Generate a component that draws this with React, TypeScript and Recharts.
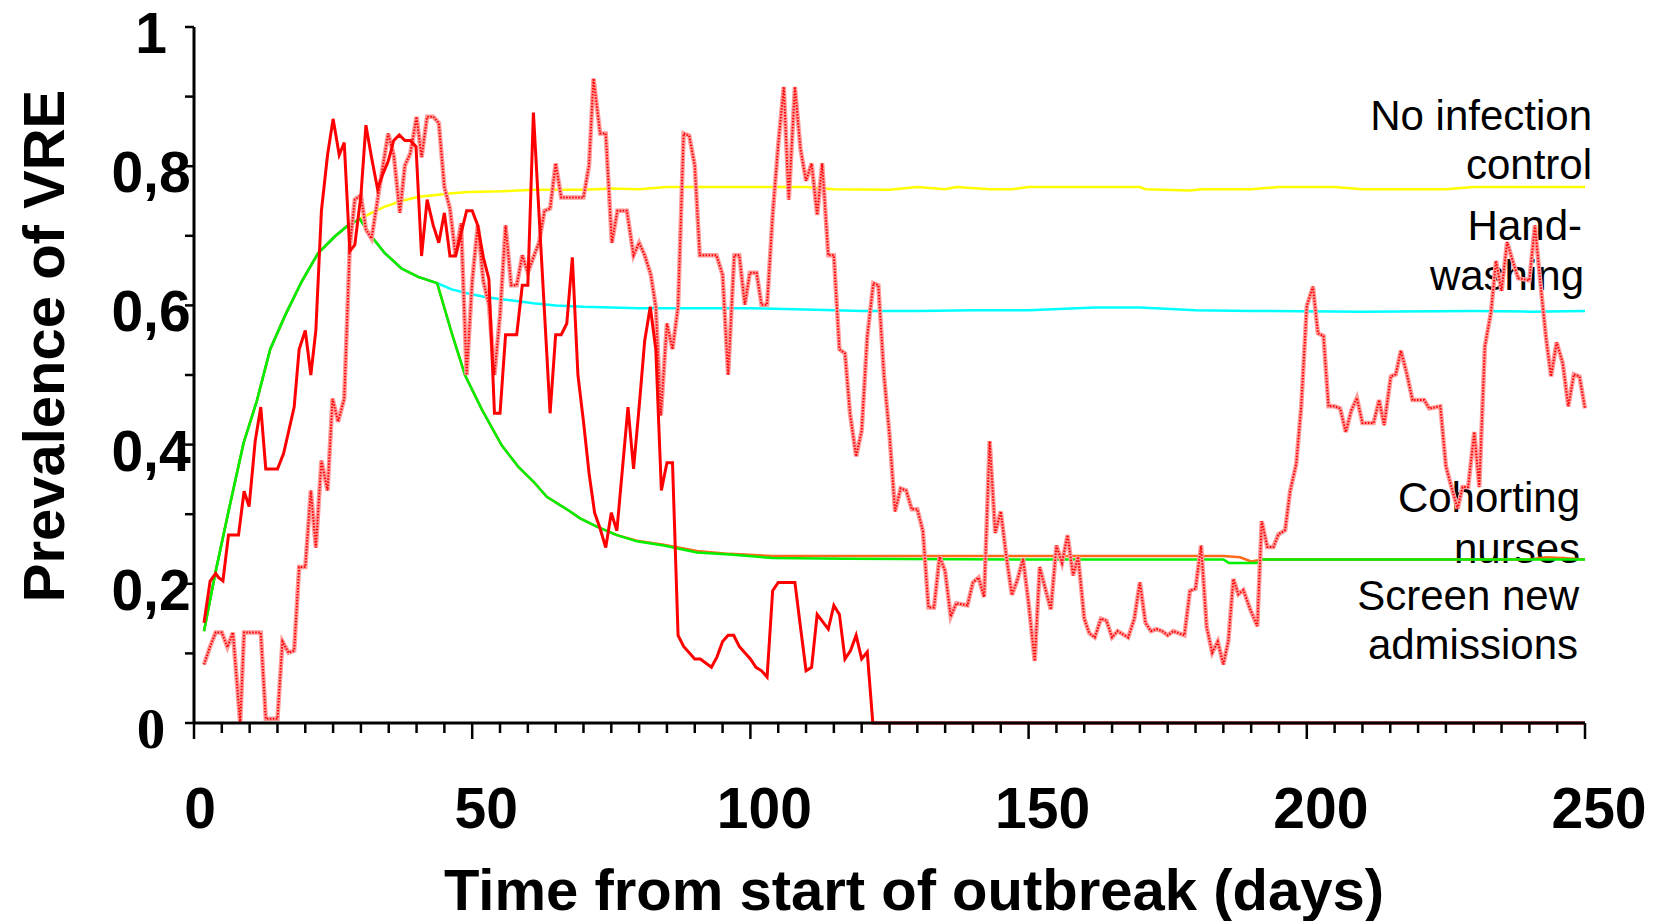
import React from 'react';
import { Line, LineChart, XAxis, YAxis } from 'recharts';

type Pt = [number, number];

// axis ticks and labels
const xTicks = Array.from({ length: 51 }, (_, i) => i * 5);
const yTicks = [0, 0.1, 0.2, 0.3, 0.4, 0.5, 0.6, 0.7, 0.8, 0.9, 1];
const yTickLabels = ['0', '', '0,2', '', '0,4', '', '0,6', '', '0,8', '', '1'];

const xTitle = 'Time from start of outbreak (days)';
const yTitle = 'Prevalence of VRE';
const seriesLabels = [
  ['No infection', 'control'],
  ['Hand-', 'washing'],
  ['Cohorting', 'nurses'],
  ['Screen new', 'admissions'],
];

// deterministic model runs: [day, prevalence]
const rise: Pt[] = [
  [1.8, 0.132], [3.9, 0.218], [6.2, 0.304], [8.9, 0.402], [11.3, 0.463], [13.7, 0.537],
  [16.4, 0.586], [19.4, 0.635], [22.3, 0.675], [25.3, 0.699], [27.7, 0.715], [29.8, 0.724],
];
const earlyDecline: Pt[] = [
  [31.9, 0.699], [34.3, 0.675], [37.3, 0.653], [40.3, 0.641], [43.7, 0.632],
];

const noControl: Pt[] = [
  ...rise,
  [31.9, 0.733], [34.3, 0.742], [37.3, 0.75], [40.3, 0.756], [43.9, 0.759], [46.3, 0.761],
  [49.3, 0.763], [55.3, 0.764], [61, 0.766], [70, 0.766], [75, 0.768], [80, 0.767], [85, 0.77],
  [110, 0.77], [115, 0.767], [125, 0.766], [130, 0.77], [135, 0.767], [137, 0.77], [143, 0.767],
  [147, 0.767], [150, 0.77], [170, 0.77], [171, 0.767], [179, 0.765], [181, 0.767], [190, 0.767],
  [195, 0.77], [205, 0.77], [210, 0.767], [225, 0.767], [230, 0.77], [250, 0.77],
];

const handwashing: Pt[] = [
  ...rise, ...earlyDecline,
  [46.3, 0.623], [49.3, 0.617], [52.3, 0.612], [55.3, 0.609], [58.3, 0.606], [61, 0.603],
  [65, 0.6], [70, 0.598], [80, 0.596], [100, 0.596], [110, 0.594], [120, 0.592], [130, 0.592],
  [140, 0.593], [150, 0.593], [162, 0.597], [170, 0.597], [180, 0.593], [190, 0.592],
  [210, 0.591], [230, 0.592], [240, 0.591], [250, 0.592],
];

const cohorting: Pt[] = [
  ...rise, ...earlyDecline,
  [44.5, 0.61], [46.3, 0.561], [48.7, 0.5], [51.7, 0.451], [55.3, 0.399], [58.3, 0.368],
  [61, 0.347], [63.4, 0.325], [67, 0.307], [69.4, 0.294], [72.4, 0.282], [76, 0.27],
  [79.6, 0.262], [84.4, 0.256], [90.4, 0.247], [96.3, 0.243], [104, 0.24], [150, 0.24],
  [185, 0.24], [188, 0.238], [190, 0.232], [192, 0.235], [240, 0.235], [243, 0.238],
  [246, 0.237], [250, 0.235],
];

const screening: Pt[] = [
  ...rise, ...earlyDecline,
  [44.5, 0.61], [46.3, 0.561], [48.7, 0.5], [51.7, 0.451], [55.3, 0.399], [58.3, 0.368],
  [61, 0.347], [63.4, 0.325], [67, 0.307], [69.4, 0.294], [72.4, 0.282], [76, 0.27],
  [79.6, 0.261], [84.4, 0.255], [90.4, 0.245], [96.3, 0.242], [104, 0.237], [117, 0.236],
  [150, 0.235], [185, 0.235], [186, 0.23], [191, 0.23], [192, 0.235], [250, 0.235],
];

// stochastic run that dies out
const stochasticA: Pt[] = [
  [1.8, 0.144], [2.9, 0.204], [3.9, 0.215], [4.4, 0.209], [5.2, 0.204], [6.2, 0.27], [8, 0.27],
  [9, 0.333], [9.9, 0.311], [11, 0.405], [12, 0.454], [12.9, 0.365], [15, 0.365], [16.1, 0.387],
  [18, 0.454], [18.9, 0.537], [20, 0.564], [21, 0.5], [21.9, 0.564], [22.9, 0.736], [24, 0.816],
  [25, 0.868], [26.1, 0.816], [27, 0.834], [28, 0.678], [28.9, 0.687], [30, 0.758], [30.9, 0.859],
  [31.9, 0.813], [33, 0.767], [33.9, 0.788], [34.9, 0.807], [35.9, 0.837], [36.9, 0.845],
  [37.9, 0.837], [38.9, 0.837], [39.9, 0.828], [40.9, 0.671], [41.9, 0.752], [43, 0.715],
  [44, 0.69], [45, 0.733], [46, 0.671], [47, 0.671], [49, 0.736], [50, 0.736], [51, 0.715],
  [52, 0.669], [53, 0.638], [54, 0.445], [55, 0.445], [56, 0.558], [58, 0.558], [59, 0.629],
  [60, 0.629], [61, 0.877], [64, 0.445], [65, 0.558], [66, 0.558], [67, 0.574], [68, 0.669],
  [69, 0.5], [70, 0.433], [71, 0.359], [72, 0.302], [73, 0.279], [74, 0.252], [75, 0.302],
  [76, 0.276], [77, 0.365], [78, 0.454], [79, 0.365], [80, 0.454], [81, 0.549], [82, 0.598],
  [83, 0.537], [84, 0.334], [85, 0.374], [86, 0.374], [87, 0.126], [88, 0.11], [90, 0.092],
  [91, 0.092], [93, 0.08], [94, 0.095], [95, 0.117], [96, 0.126], [97, 0.126], [98, 0.11],
  [100, 0.092], [101, 0.08], [102, 0.075], [103, 0.066], [104, 0.19], [105, 0.202], [108, 0.202],
  [109, 0.138], [110, 0.075], [111, 0.08], [112, 0.156], [114, 0.135], [115, 0.169], [116, 0.156],
  [117, 0.092], [118, 0.104], [119, 0.126], [120, 0.092], [121, 0.102], [122, 0], [250, 0],
];

// stochastic run that persists
const stochasticB: Pt[] = [
  [1.8, 0.084], [2.9, 0.11], [3.9, 0.13], [5, 0.13], [6, 0.109], [7, 0.13], [8.3, 0], [9, 0.13],
  [12, 0.13], [12.9, 0.006], [15, 0.006], [15.9, 0.117], [17, 0.101], [18, 0.104], [18.9, 0.224],
  [20, 0.224], [21, 0.334], [21.9, 0.252], [22.9, 0.377], [24, 0.334], [24.9, 0.466], [25.9, 0.433],
  [27, 0.466], [28, 0.684], [28.9, 0.752], [30, 0.758], [30.9, 0.709], [31.9, 0.696], [33, 0.752],
  [33.9, 0.798], [34.9, 0.847], [35.9, 0.816], [37, 0.733], [37.9, 0.801], [38.9, 0.819], [40, 0.871],
  [40.9, 0.813], [41.9, 0.871], [43, 0.871], [44, 0.862], [45, 0.77], [46, 0.739], [47, 0.672],
  [48, 0.718], [49, 0.5], [50, 0.635], [51, 0.715], [52, 0.635], [53, 0.601], [54, 0.5], [55, 0.586],
  [56, 0.715], [57, 0.629], [58, 0.629], [59, 0.672], [60, 0.647], [61, 0.669], [62, 0.69],
  [63, 0.736], [64, 0.739], [65, 0.804], [66, 0.755], [70, 0.755], [71, 0.801], [71.8, 0.926],
  [73, 0.847], [74, 0.847], [75.1, 0.69], [76.1, 0.736], [77.8, 0.736], [79, 0.672], [80, 0.69],
  [81, 0.672], [82.1, 0.644], [83, 0.598], [83.9, 0.442], [85, 0.574], [86, 0.537], [87, 0.598],
  [88, 0.847], [89, 0.844], [90, 0.801], [90.9, 0.672], [93.9, 0.672], [95, 0.644], [96, 0.5],
  [97.1, 0.672], [98, 0.672], [99, 0.601], [99.9, 0.647], [101.1, 0.647], [102, 0.601], [103, 0.601],
  [104, 0.73], [105, 0.831], [106, 0.914], [106.9, 0.752], [108, 0.914], [109, 0.825], [110, 0.779],
  [111, 0.804], [112, 0.73], [112.9, 0.804], [114, 0.672], [115, 0.672], [116, 0.537], [117, 0.531],
  [117.9, 0.445], [119, 0.383], [120, 0.42], [121, 0.555], [122.1, 0.632], [123, 0.629], [124, 0.5],
  [125, 0.414], [126, 0.304], [127, 0.337], [128, 0.334], [129, 0.307], [130, 0.307], [131, 0.276],
  [132, 0.166], [133, 0.166], [134, 0.239], [135, 0.218], [136, 0.153], [137, 0.172], [139, 0.169],
  [140, 0.202], [141, 0.209], [142, 0.181], [143, 0.405], [144, 0.273], [145, 0.304], [146, 0.239],
  [147, 0.184], [148, 0.206], [149, 0.236], [150, 0.172], [151.1, 0.089], [152, 0.224],
  [153.1, 0.19], [154, 0.163], [155, 0.255], [156, 0.23], [157, 0.27], [158, 0.212], [158.9, 0.239],
  [160, 0.15], [160.9, 0.129], [161.9, 0.123], [163, 0.15], [164, 0.147], [165, 0.123], [166, 0.132],
  [167.9, 0.123], [169, 0.15], [170, 0.202], [171, 0.144], [172, 0.132], [173, 0.135], [174, 0.132],
  [175, 0.126], [176, 0.132], [178, 0.126], [179, 0.19], [180, 0.193], [181, 0.255], [182, 0.138],
  [183, 0.101], [184, 0.117], [185, 0.084], [185.9, 0.118], [186.8, 0.207], [187.7, 0.185],
  [188.6, 0.191], [189.8, 0.164], [191.1, 0.139], [191.9, 0.29], [192.9, 0.253], [194, 0.253],
  [194.9, 0.271], [196.1, 0.277], [197, 0.333], [198.1, 0.372], [199, 0.455], [200, 0.599],
  [201.1, 0.627], [202, 0.56], [203, 0.556], [203.9, 0.455], [205, 0.455], [206, 0.452], [207, 0.418],
  [208, 0.449], [209, 0.467], [210, 0.431], [212, 0.431], [213, 0.464], [213.9, 0.428], [215.1, 0.498],
  [216, 0.501], [216.9, 0.535], [218, 0.501], [219, 0.464], [221.1, 0.464], [222, 0.452], [224, 0.455],
  [225, 0.369], [226, 0.339], [227.1, 0.308], [228, 0.339], [229, 0.339], [230.1, 0.418], [231, 0.339],
  [232, 0.541], [233.1, 0.59], [234, 0.664], [235, 0.621], [236, 0.691], [237, 0.664], [238, 0.639],
  [240, 0.636], [241, 0.715], [241.9, 0.639], [243, 0.553], [243.9, 0.498], [244.9, 0.547],
  [246, 0.517], [247, 0.455], [248, 0.501], [249, 0.498], [250, 0.452],
];

const rows = (pts: Pt[]) => pts.map(([day, v]) => ({ day, v }));

const SANS = '"Liberation Sans", Arial, Helvetica, sans-serif';
const SERIF = '"Liberation Serif", "Times New Roman", serif';

function XTick(props: any) {
  const { x, y, payload } = props;
  const v = payload.value;
  const major = v % 50 === 0;
  return (
    <g>
      <line x1={x} x2={x} y1={y} y2={y + (major ? 16 : 10)} stroke="#000" strokeWidth={2.5} />
      {major && (
        <text x={x + (v === 0 ? 6 : 14)} y={828} textAnchor="middle" fontFamily={SANS}
          fontWeight="bold" fontSize={57} fill="#000">
          {v}
        </text>
      )}
    </g>
  );
}

function YTick(props: any) {
  const { x, y, index } = props;
  const label = yTickLabels[index];
  return (
    <g>
      <line x1={x - 9} x2={x} y1={y} y2={y} stroke="#000" strokeWidth={2.5} />
      {label && (
        <text x={x - 43} y={y + (label === '0' ? 25 : 26)} textAnchor="middle"
          fontFamily={label === '0' ? SERIF : SANS} fontWeight="bold" fontSize={57} fill="#000">
          {label}
        </text>
      )}
    </g>
  );
}

export default function App() {
  const labelPos = [
    [[1592, 130], [1592, 179]],
    [[1582, 240], [1584, 290]],
    [[1580, 512], [1580, 563]],
    [[1579, 610], [1578, 659]],
  ];
  return (
    <div style={{ position: 'absolute', left: 0, top: 0, background: '#fff' }}>
      <LineChart width={1660} height={921} margin={{ top: 27, right: 75, bottom: 168, left: 164 }}>
        <XAxis type="number" dataKey="day" domain={[0, 250]} ticks={xTicks} interval={0}
          height={30} tickSize={0} tickMargin={0} tickLine={false}
          axisLine={{ stroke: '#000', strokeWidth: 3 }} tick={<XTick />} />
        <YAxis type="number" domain={[0, 1]} ticks={yTicks} interval={0} width={30}
          tickSize={0} tickMargin={0} tickLine={false}
          axisLine={{ stroke: '#000', strokeWidth: 3 }} tick={<YTick />} />
        <Line data={rows(noControl)} dataKey="v" name="noControl" stroke="#ffff00" strokeWidth={2.5}
          dot={false} isAnimationActive={false} />
        <Line data={rows(handwashing)} dataKey="v" name="handwashing" stroke="#00ffff" strokeWidth={2.5}
          dot={false} isAnimationActive={false} />
        <Line data={rows(cohorting)} dataKey="v" name="cohorting" stroke="#ff6a1a" strokeWidth={2.5}
          dot={false} isAnimationActive={false} />
        <Line data={rows(screening)} dataKey="v" name="screening" stroke="#00f000" strokeWidth={2.5}
          dot={false} isAnimationActive={false} />
        <Line data={rows(stochasticB)} dataKey="v" name="stochasticBbase" stroke="#ff9c9c" strokeWidth={4.5}
          dot={false} isAnimationActive={false} />
        <Line data={rows(stochasticB)} dataKey="v" name="stochasticB" stroke="#ff0000" strokeWidth={2}
          strokeDasharray="1.5 1.5" dot={false} isAnimationActive={false} />
        <Line data={rows(stochasticA)} dataKey="v" name="stochasticA" stroke="#ff0000" strokeWidth={3}
          dot={false} isAnimationActive={false} />
        <text transform="translate(64,346) rotate(-90)" textAnchor="middle" fontFamily={SANS}
          fontWeight="bold" fontSize={58} fill="#000">
          {yTitle}
        </text>
        <text x={914} y={910} textAnchor="middle" fontFamily={SANS} fontWeight="bold"
          fontSize={58} fill="#000">
          {xTitle}
        </text>
        {seriesLabels.map((lines, i) =>
          lines.map((t, j) => (
            <text key={`${i}-${j}`} x={labelPos[i][j][0]} y={labelPos[i][j][1]} textAnchor="end"
              fontFamily={SANS} fontSize={42} fill="#000">
              {t}
            </text>
          ))
        )}
      </LineChart>
    </div>
  );
}
